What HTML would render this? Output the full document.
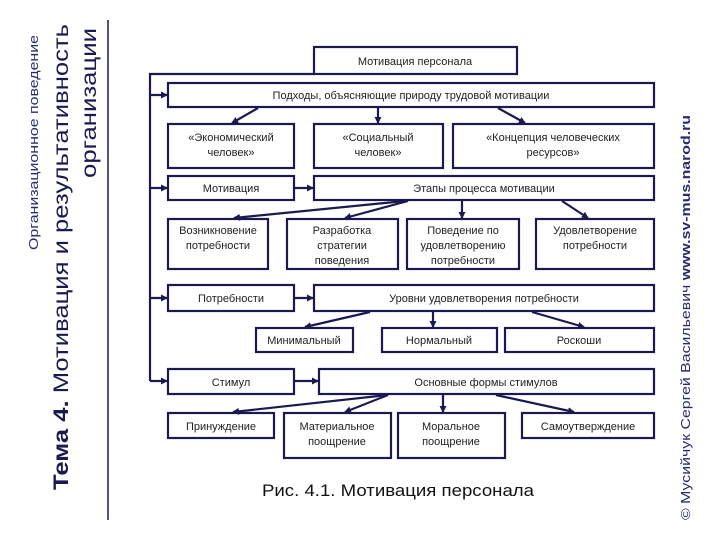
<!DOCTYPE html>
<html><head><meta charset="utf-8"><style>
html,body{margin:0;padding:0;background:#fff;}
svg{display:block;}
text{font-family:"Liberation Sans",sans-serif;}
</style></head><body>
<svg width="720" height="540" viewBox="0 0 720 540" xmlns="http://www.w3.org/2000/svg">
<defs><marker id="a" markerWidth="8" markerHeight="8" refX="6" refY="4" orient="auto" markerUnits="userSpaceOnUse"><path d="M0,0.5 L7,4 L0,7.5z" fill="#1a1a50"/></marker></defs>
<line x1="108" y1="20" x2="108" y2="520" stroke="#1a1a50" stroke-width="1.5"/>
<text transform="translate(38,250) rotate(-90)" font-size="13" fill="#2a2a70" textLength="215" lengthAdjust="spacingAndGlyphs">Организационное поведение</text>
<text transform="translate(68,490) rotate(-90)" font-size="21" fill="#1a1a50" textLength="466" lengthAdjust="spacingAndGlyphs"><tspan font-weight="bold">Тема 4.</tspan> Мотивация и результативность</text>
<text transform="translate(96,178) rotate(-90)" font-size="21" fill="#1a1a50" textLength="150" lengthAdjust="spacingAndGlyphs">организации</text>
<text transform="translate(690,520) rotate(-90)" font-size="13" fill="#2a2a70" textLength="405" lengthAdjust="spacingAndGlyphs">© Мусийчук Сергей Васильевич <tspan font-weight="bold">www.sv-mus.narod.ru</tspan></text>
<g fill="none" stroke="#1a1a50" stroke-width="2.2">
<rect x="314" y="47" width="203" height="27"/>
<rect x="168" y="83" width="486" height="24"/>
<rect x="168" y="124" width="126" height="44"/>
<rect x="314" y="124" width="129" height="44"/>
<rect x="453" y="124" width="201" height="44"/>
<rect x="168" y="176" width="126" height="24"/>
<rect x="314" y="176" width="340" height="24"/>
<rect x="168" y="219" width="100" height="50"/>
<rect x="287" y="219" width="111" height="50"/>
<rect x="407" y="219" width="112" height="50"/>
<rect x="536" y="219" width="118" height="50"/>
<rect x="168" y="285" width="126" height="26"/>
<rect x="314" y="285" width="340" height="26"/>
<rect x="256" y="328" width="97" height="24"/>
<rect x="382" y="328" width="115" height="24"/>
<rect x="505" y="328" width="149" height="24"/>
<rect x="168" y="369" width="126" height="25"/>
<rect x="319" y="369" width="335" height="25"/>
<rect x="168" y="413" width="106" height="25"/>
<rect x="284" y="413" width="107" height="45"/>
<rect x="398" y="413" width="107" height="45"/>
<rect x="522" y="413" width="132" height="25"/>
<polyline points="314,74 150,74 150,381"/>
</g>
<g stroke="#1a1a50" stroke-width="2.2" marker-end="url(#a)">
<line x1="150" y1="95" x2="167" y2="95"/>
<line x1="150" y1="188" x2="167" y2="188"/>
<line x1="150" y1="298" x2="167" y2="298"/>
<line x1="150" y1="381" x2="167" y2="381"/>
<line x1="294" y1="188" x2="313" y2="188"/>
<line x1="294" y1="298" x2="313" y2="298"/>
<line x1="294" y1="381" x2="318" y2="381"/>
<line x1="258" y1="108" x2="232" y2="123"/>
<line x1="378" y1="108" x2="378" y2="123"/>
<line x1="498" y1="108" x2="525" y2="123"/>
<line x1="405" y1="201" x2="234" y2="218"/>
<line x1="408" y1="201" x2="345" y2="218"/>
<line x1="462" y1="201" x2="462" y2="218"/>
<line x1="562" y1="201" x2="588" y2="218"/>
<line x1="370" y1="312" x2="305" y2="327"/>
<line x1="433" y1="312" x2="433" y2="327"/>
<line x1="532" y1="312" x2="584" y2="327"/>
<line x1="388" y1="395" x2="233" y2="412"/>
<line x1="388" y1="395" x2="345" y2="412"/>
<line x1="443" y1="395" x2="443" y2="412"/>
<line x1="496" y1="395" x2="574" y2="412"/>
</g>
<g font-size="11" fill="#222" text-anchor="middle">
<text x="415" y="65">Мотивация персонала</text>
<text x="411" y="99">Подходы, объясняющие природу трудовой мотивации</text>
<text x="231" y="141">«Экономический</text><text x="231" y="156">человек»</text>
<text x="378" y="141">«Социальный</text><text x="378" y="156">человек»</text>
<text x="553" y="141">«Концепция человеческих</text><text x="553" y="156">ресурсов»</text>
<text x="231" y="192">Мотивация</text>
<text x="484" y="192">Этапы процесса мотивации</text>
<text x="218" y="234">Возникновение</text><text x="218" y="249">потребности</text>
<text x="342" y="234">Разработка</text><text x="342" y="249">стратегии</text><text x="342" y="264">поведения</text>
<text x="463" y="234">Поведение по</text><text x="463" y="249">удовлетворению</text><text x="463" y="264">потребности</text>
<text x="595" y="234">Удовлетворение</text><text x="595" y="249">потребности</text>
<text x="231" y="302">Потребности</text>
<text x="484" y="302">Уровни удовлетворения потребности</text>
<text x="304" y="344">Минимальный</text>
<text x="439" y="344">Нормальный</text>
<text x="579" y="344">Роскоши</text>
<text x="231" y="386">Стимул</text>
<text x="486" y="386">Основные формы стимулов</text>
<text x="221" y="430">Принуждение</text>
<text x="337" y="430">Материальное</text><text x="337" y="445">поощрение</text>
<text x="451" y="430">Моральное</text><text x="451" y="445">поощрение</text>
<text x="588" y="430">Самоутверждение</text>
</g>
<text x="262" y="496" font-size="17" fill="#111" textLength="272" lengthAdjust="spacingAndGlyphs">Рис. 4.1. Мотивация персонала</text>
</svg>
</body></html>
